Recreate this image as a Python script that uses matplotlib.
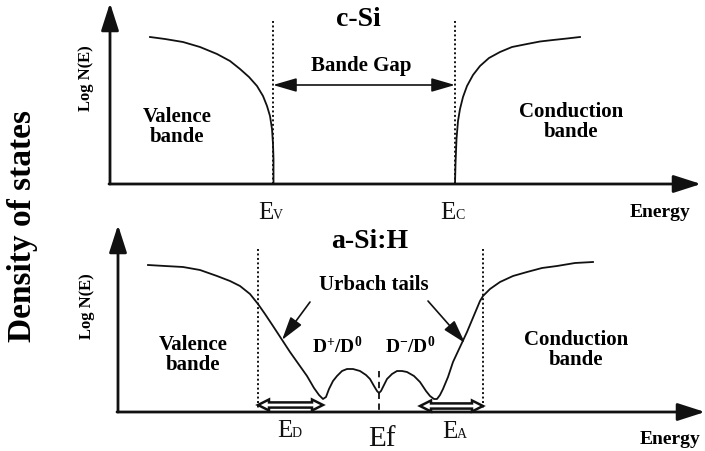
import matplotlib
matplotlib.use("Agg")
import matplotlib.pyplot as plt
from matplotlib.patches import Polygon

plt.rcParams["font.family"] = ["Liberation Serif", "DejaVu Serif"]
plt.rcParams["mathtext.fontset"] = "custom"
plt.rcParams["mathtext.rm"] = "Liberation Serif"
plt.rcParams["mathtext.bf"] = "Liberation Serif:bold"

# ---- schematic density-of-states curves (drawing units, y grows downward) ----
# c-Si : valence band edge ending at Ev
csi_valence_x = [150, 165, 183, 200, 217, 230, 240, 249, 257, 263, 267, 270,
                 272, 273, 273.5, 273.5]
csi_valence_y = [38, 40, 43, 48, 55, 62, 70, 78, 87, 97, 107, 117,
                 130, 145, 160, 185]
# c-Si : conduction band edge starting at Ec
csi_conduction_x = [455, 455.5, 456.5, 458, 460, 463, 467, 473, 480, 489,
                    500, 512, 527, 540, 553, 567, 580]
csi_conduction_y = [185, 165, 140, 122, 110, 98, 87, 76, 67, 59,
                    53, 48, 45, 42.5, 41, 39.5, 38]

# a-Si:H : band tails with two defect bumps (D+/D0 and D-/D0)
asi_x = [148, 165, 183, 200, 217, 230, 240, 250, 258, 265, 273, 290, 307, 314,
         319, 323, 326, 329, 333, 337, 342, 347, 353, 360, 366, 370, 374, 377,
         379, 381, 384, 387, 392, 397, 402, 407, 414, 420, 426, 430, 434, 437,
         440, 443, 448, 453, 467, 480, 483, 490, 500, 513, 527, 542, 557, 575,
         593]
asi_y = [266, 267, 268, 271, 277, 282, 287, 295, 305, 315, 327, 353, 377, 389,
         396, 400, 398, 390, 382, 377, 372, 370, 370, 372, 376, 380, 387, 392,
         394, 392, 386, 380, 375, 372, 372, 373, 377, 383, 392, 397, 400, 400,
         396, 390, 378, 363, 333, 302, 297, 290, 283, 277, 273, 269, 267, 264,
         263]

# characteristic energies
csi_ev, csi_ec = 273, 455
asi_ev, asi_ec, asi_ef = 258, 483, 379
asi_ed_end, asi_ea_start = 323, 420

INK = "#111111"

fig = plt.figure(figsize=(7.05, 4.52), dpi=100)
ax = fig.add_axes([0, 0, 1, 1])
ax.set_xlim(0, 705)
ax.set_ylim(452, 0)
ax.axis("off")


def axis_arrow(x0, y0, x1, y1):
    ax.annotate("", xy=(x1, y1), xytext=(x0, y0),
                arrowprops=dict(arrowstyle="-|>,head_length=1.4,head_width=0.45",
                                lw=2.0, color=INK, mutation_scale=12,
                                shrinkA=0, shrinkB=0))


def thin_arrow(x0, y0, x1, y1, style="-|>"):
    ax.annotate("", xy=(x1, y1), xytext=(x0, y0),
                arrowprops=dict(arrowstyle=style + ",head_length=1.2,head_width=0.35",
                                lw=1.2, color=INK, mutation_scale=12,
                                shrinkA=0, shrinkB=0))


def hollow_double_arrow(x0, x1, y, head_len=11, head_half=5.5, shaft_half=2.6):
    """Outlined two-headed arrow spanning an energy interval."""
    outline = [
        (x0, y),
        (x0 + head_len, y - head_half),
        (x0 + head_len, y - shaft_half),
        (x1 - head_len, y - shaft_half),
        (x1 - head_len, y - head_half),
        (x1, y),
        (x1 - head_len, y + head_half),
        (x1 - head_len, y + shaft_half),
        (x0 + head_len, y + shaft_half),
        (x0 + head_len, y + head_half),
    ]
    ax.add_patch(Polygon(outline, closed=True, facecolor="white",
                         edgecolor=INK, lw=1.8, joinstyle="miter", zorder=3))


def energy_label(x, y, sub, size=18, subsize=10):
    ax.text(x + 2, y, "E", fontsize=size, ha="right", va="center", color=INK)
    ax.text(x + 2, y + 3, sub, fontsize=subsize, ha="left", va="center", color=INK)


# ---------------- c-Si panel ----------------
axis_arrow(110, 185, 110, 4)
axis_arrow(109, 185, 701, 185)
ax.plot(csi_valence_x, csi_valence_y, color=INK, lw=1.3)
ax.plot(csi_conduction_x, csi_conduction_y, color=INK, lw=1.3)
for xv in (csi_ev, csi_ec):
    ax.plot([xv, xv], [22, 185], color=INK, lw=1.4, ls=(0, (1.0, 1.3)))
thin_arrow(csi_ev, 86, csi_ec, 86, style="<|-|>")

ax.text(358, 20, "c-Si", fontsize=20, fontweight="bold", ha="center", va="center")
ax.text(361, 66, "Bande Gap", fontsize=15, fontweight="bold", ha="center", va="center")
ax.text(177, 117, "Valence", fontsize=15, fontweight="bold", ha="center", va="center")
ax.text(177, 137, "bande", fontsize=15, fontweight="bold", ha="center", va="center")
ax.text(571, 112, "Conduction", fontsize=15, fontweight="bold", ha="center", va="center")
ax.text(571, 132, "bande", fontsize=15, fontweight="bold", ha="center", va="center")
ax.text(86, 78, "Log N(E)", fontsize=12, fontweight="bold", rotation=90,
        ha="center", va="center")
energy_label(csi_ev - 2, 213, "V")
energy_label(csi_ec - 2, 213, "C")
ax.text(660, 213, "Energy", fontsize=14, fontweight="bold", ha="center", va="center")

# ---------------- a-Si:H panel ----------------
axis_arrow(118, 413, 118, 226)
axis_arrow(117, 413, 705, 413)
ax.plot(asi_x, asi_y, color=INK, lw=1.3)
for xv in (asi_ev, asi_ec):
    ax.plot([xv, xv], [250, 411], color=INK, lw=1.4, ls=(0, (1.0, 1.3)))
ax.plot([asi_ef, asi_ef], [372, 413], color=INK, lw=1.3, ls=(0, (3.5, 2.5)))

hollow_double_arrow(asi_ev, asi_ed_end, 406)
hollow_double_arrow(asi_ea_start, asi_ec, 407)

thin_arrow(310, 303, 282, 341)
thin_arrow(428, 302, 465, 344)

ax.text(370, 242, "a-Si:H", fontsize=20, fontweight="bold", ha="center", va="center")
ax.text(374, 285, "Urbach tails", fontsize=15, fontweight="bold", ha="center", va="center")
ax.text(337, 347, r"$\mathbf{D^{+}/D^{0}}$", fontsize=14, ha="center", va="center")
ax.text(410, 347, r"$\mathbf{D^{-}/D^{0}}$", fontsize=14, ha="center", va="center")
ax.text(193, 345, "Valence", fontsize=15, fontweight="bold", ha="center", va="center")
ax.text(193, 365, "bande", fontsize=15, fontweight="bold", ha="center", va="center")
ax.text(576, 340, "Conduction", fontsize=15, fontweight="bold", ha="center", va="center")
ax.text(576, 360, "bande", fontsize=15, fontweight="bold", ha="center", va="center")
ax.text(87, 306, "Log N(E)", fontsize=12, fontweight="bold", rotation=90,
        ha="center", va="center")
energy_label(asi_ev + 32, 431, "D")
energy_label(asi_ea_start + 35, 432, "A")
ax.text(asi_ef + 3, 439, "Ef", fontsize=21, ha="center", va="center", color=INK)
ax.text(670, 440, "Energy", fontsize=14, fontweight="bold", ha="center", va="center")

# shared ordinate title
ax.text(23, 226, "Density of states", fontsize=24, fontweight="bold", rotation=90,
        ha="center", va="center")

fig.savefig("out.png", dpi=100, facecolor="white")
